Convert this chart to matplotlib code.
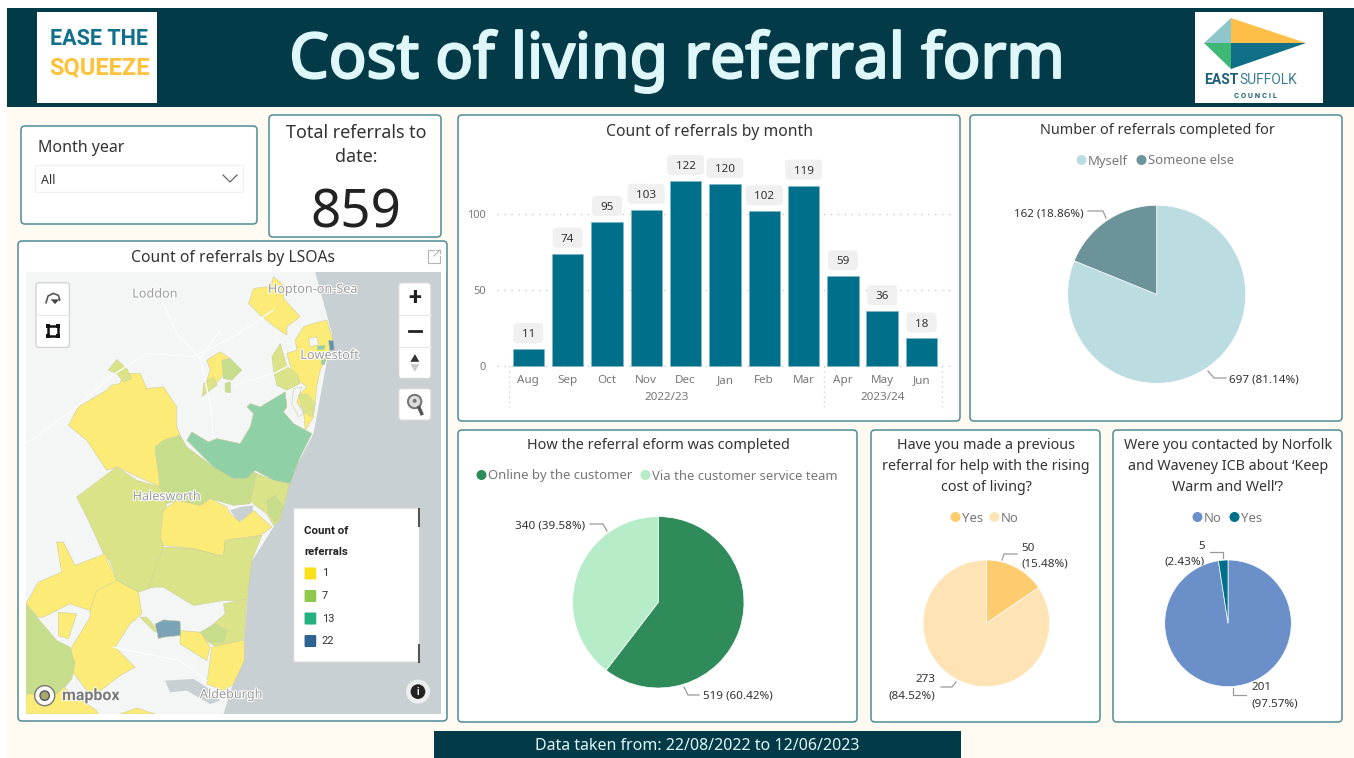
import matplotlib
matplotlib.use("Agg")
import matplotlib.pyplot as plt
import matplotlib.patheffects as pe
from matplotlib.patches import FancyBboxPatch, Polygon, Rectangle, Circle
from matplotlib.transforms import ScaledTranslation

plt.rcParams['font.family'] = ['Noto Sans', 'DejaVu Sans']

# data
months = ["Aug", "Sep", "Oct", "Nov", "Dec", "Jan", "Feb", "Mar", "Apr", "May", "Jun"]
month_counts = [11, 74, 95, 103, 122, 120, 102, 119, 59, 36, 18]
y_ticks = [0, 50, 100]
total_referrals = 859

for_labels = ["Myself", "Someone else"]
for_counts = [697, 162]
for_colors = ["#bbdce1", "#6c939a"]

how_labels = ["Online by the customer", "Via the customer service team"]
how_counts = [519, 340]
how_colors = ["#2f8c5a", "#b6edc8"]

prev_labels = ["Yes", "No"]
prev_counts = [50, 273]
prev_colors = ["#fecb6e", "#fee4b4"]

icb_labels = ["No", "Yes"]
icb_counts = [201, 5]
icb_colors = ["#6b90c9", "#006f87"]

legend_counts = ["1", "7", "13", "22"]
legend_colors = ["#fde01c", "#8fc94c", "#25b07f", "#2e6390"]

W, H = 1354, 758
DARK = "#023a47"
BORDER = "#4f8c96"
TXT = "#333333"
GREY = "#777777"
BOLD = ['Roboto', 'DejaVu Sans']

YEL = "#fceb76"
OLV = "#dbe388"
GRN = "#c6de8c"
TEAL = "#8fd0a6"
BLU = "#7aa3b8"
LAND = "#f4f5f5"

# map shapes, in zoomed map coordinates
map_shapes = [
    (YEL, [(145,465),(175,410),(260,360),(275,345),(300,340),(310,310),(360,310),(380,355),(430,350),(470,410),(470,470),(480,495),(425,515),(405,545),(420,625),(460,630),(460,660),(420,650),(290,590),(260,600),(200,510)]),
    (OLV, [(265,300),(290,268),(320,295),(335,325),(310,335),(290,310)]),
    (GRN, [(405,530),(430,510),(480,495),(500,530),(580,590),(650,625),(690,600),(710,610),(690,700),(640,705),(570,685),(540,710),(470,690),(440,700),(420,650)]),
    (TEAL, [(500,510),(515,485),(565,515),(590,505),(660,520),(690,470),(700,430),(680,410),(690,400),(720,410),(795,365),(800,410),(790,425),(820,460),(875,490),(840,560),(810,640),(760,630),(705,600),(680,625),(640,625),(580,590)]),
    (OLV, [(170,680),(290,590),(350,630),(420,650),(440,700),(430,740),(420,800),(430,830),(400,950),(355,965),(290,930),(270,870),(250,850),(210,760)]),
    (YEL, [(420,800),(430,720),(470,690),(540,705),(570,685),(620,710),(630,730),(660,755),(700,720),(755,770),(720,795),(615,810),(610,858),(520,835),(430,825)]),
    (OLV, [(690,690),(710,610),(760,630),(808,640),(780,750),(760,765),(740,730),(705,705)]),
    (GRN, [(740,690),(765,675),(790,710),(770,760),(745,730)]),
    (OLV, [(430,830),(520,835),(610,858),(615,810),(725,795),(695,870),(680,990),(610,990),(520,1005),(430,950),(385,950)]),
    (YEL, [(18,1000),(55,935),(125,905),(110,815),(130,815),(165,885),(255,850),(290,930),(210,1020),(150,1000),(70,1040),(55,1040)]),
    (YEL, [(210,1020),(230,960),(290,930),(355,965),(365,1030),(330,1060),(285,1130),(345,1190),(300,1215),(215,1280),(155,1200),(155,1130),(210,1040)]),
    (GRN, [(18,1000),(55,1045),(110,1110),(150,1130),(165,1180),(155,1225),(110,1280),(18,1270)]),
    (YEL, [(115,1025),(170,1030),(145,1105),(115,1095)]),
    (YEL, [(18,1270),(110,1270),(130,1250),(230,1320),(235,1330),(18,1330)]),
    (YEL, [(300,1330),(350,1312),(405,1330)]),
    (OLV, [(610,1000),(680,985),(672,1105),(590,1130),(540,1100),(580,1060),(615,1030)]),
    (YEL, [(575,1130),(672,1108),(672,1170),(640,1240),(610,1260),(560,1240)]),
    (YEL, [(480,1080),(540,1085),(570,1130),(560,1170),(480,1120)]),
    (GRN, [(540,1085),(585,1060),(620,1080),(610,1115),(570,1115)]),
    (OLV, [(360,1040),(380,1040),(410,1075),(405,1085)]),
    (BLU, [(405,1060),(430,1048),(480,1052),(482,1095),(430,1100),(415,1105)]),
    (YEL, [(685,100),(700,55),(750,50),(760,20),(790,45),(790,85),(840,140),(800,170),(800,195),(770,175),(720,135),(705,120)]),
    (YEL, [(560,270),(600,245),(630,265),(605,320),(580,350),(545,378),(570,300)]),
    (OLV, [(550,340),(580,320),(590,345),(548,376)]),
    (GRN, [(605,270),(630,265),(665,300),(635,330),(610,325)]),
    (GRN, [(615,340),(630,335),(632,368),(615,365)]),
    (YEL, [(825,210),(850,170),(880,160),(920,150),(938,210),(920,260),(900,300),(890,345),(880,440),(855,480),(850,420),(830,395),(840,370),(860,350),(820,320),(800,250),(830,240)]),
    (OLV, [(755,260),(780,220),(800,290),(830,310),(840,340),(800,360),(770,345),(760,300)]),
    (LAND, [(865,205),(890,200),(895,225),(870,230)]),
    (LAND, [(820,355),(845,350),(830,395),(850,430),(835,440),(815,400)]),
    (OLV, [(835,375),(860,370),(885,400),(875,440),(850,425)]),
    (TEAL, [(890,228),(915,226),(912,238),(892,240)]),
    (TEAL, [(905,268),(918,266),(912,284),(902,282)]),
    ("#5f8fb5", [(925,210),(940,212),(942,240),(928,240)]),
]
water_shapes = [
    [(885,6),(935,190),(880,490),(800,640),(760,770),(690,880),(670,1140),(610,1330),(1262,1330),(1262,6)],
    [(630,720),(660,710),(700,705),(695,730),(655,755)],
    [(435,1230),(520,1225),(560,1250),(600,1290),(570,1300),(500,1260),(450,1265)],
]
road_lines = [
    [(18,520),(160,420),(270,320),(380,250),(520,260),(640,200),(760,120)],
    [(430,100),(470,190),(540,265),(570,400),(580,500)],
    [(600,180),(540,265)],
    [(640,345),(760,310),(800,290)],
    [(280,1130),(380,1150),(480,1170),(560,1230)],
]
map_labels = [
    ("Loddon", 405, 68),
    ("Hopton-on-Sea", 878, 54),
    ("Lowestoft", 928, 252),
    ("Halesworth", 440, 675),
    ("Aldeburgh", 634, 1268),
]

fig = plt.figure(figsize=(W / 100, H / 100), dpi=100, facecolor="white")


def px_axes(x0, y0, x1, y1, **kw):
    return fig.add_axes([x0 / W, 1 - y1 / H, (x1 - x0) / W, (y1 - y0) / H], **kw)


bg = px_axes(0, 0, W, H)
bg.set_xlim(0, W)
bg.set_ylim(H, 0)
bg.axis("off")


def txt(x, y, s, **kw):
    # noto sits a little high with va=center
    kw.setdefault("va", "center")
    kw.setdefault("color", TXT)
    return bg.text(x, y + 1.5, s, **kw)


def panel(x0, y0, x1, y1):
    bg.add_patch(FancyBboxPatch((x0 + 3, y0 + 3), x1 - x0 - 6, y1 - y0 - 6, boxstyle="round,pad=3,rounding_size=4",
                                fc="white", ec=BORDER, lw=1.1))


# page background and header
bg.add_patch(Rectangle((7, 8), W - 7, H - 8, fc="#fffbf3", ec="none"))
bg.add_patch(Rectangle((7, 8), W - 7, 99, fc=DARK, ec="none"))
t = txt(677, 60, "Cost of living referral form", color="#e0f7f9", fontsize=45, ha="center")
t.set_path_effects([pe.withStroke(linewidth=1.7, foreground="#e0f7f9")])

# left logo
bg.add_patch(Rectangle((37, 12), 120, 91, fc="white", ec="none"))
bg.text(99, 39, "EASE THE", color="#0f708a", fontsize=15.5, fontweight="bold", family=BOLD, ha="center", va="center")
bg.text(99, 68, "SQUEEZE", color="#fdc13a", fontsize=17, fontweight="bold", family=BOLD, ha="center", va="center")

# right logo
bg.add_patch(Rectangle((1195, 12), 128, 91, fc="white", ec="none"))
bg.add_patch(Polygon([(1231, 18), (1204, 43), (1231, 43)], fc="#8fc6cb", ec="none"))
bg.add_patch(Polygon([(1231, 18), (1231, 43), (1306, 43)], fc="#fdbf47", ec="none"))
bg.add_patch(Polygon([(1204, 43), (1231, 43), (1231, 69)], fc="#3fb876", ec="none"))
bg.add_patch(Polygon([(1231, 43), (1306, 43), (1231, 69)], fc="#0e6f86", ec="none"))
bg.text(1204, 80, "EAST", color="#1c5f78", fontsize=10, fontweight="bold", family=BOLD, va="center")
bg.text(1239, 80, "SUFFOLK", color="#3d7d94", fontsize=10, family=BOLD, va="center")
bg.text(1255, 95, "C O U N C I L", color="#1c5f78", fontsize=5.5, fontweight="bold", family=BOLD, ha="center", va="center")

# panels
panel(21, 126, 257, 224)
panel(269, 115, 441, 237)
panel(18, 241, 447, 721)
panel(458, 115, 960, 421)
panel(970, 115, 1342, 421)
panel(458, 430, 857, 722)
panel(871, 430, 1100, 722)
panel(1113, 430, 1342, 722)

# slicer
txt(38, 146, "Month year", fontsize=11.5)
bg.add_patch(Rectangle((35, 165), 208, 27, fc="white", ec="#f2f2f2", lw=1))
txt(41, 179, "All", fontsize=9)
bg.plot([223, 230, 237], [175, 182, 175], color="#666666", lw=0.9)

# card
txt(356, 131, "Total referrals to", fontsize=12.9, ha="center")
txt(356, 155.5, "date:", fontsize=12.9, ha="center")
txt(356, 212, str(total_referrals), color="#222222", fontsize=38, ha="center")

# map
txt(233, 257, "Count of referrals by LSOAs", fontsize=11.3, ha="center")
bg.plot([428, 428, 440, 440], [256, 263, 263, 256], color="#b5b5b5", lw=0.8)
bg.plot([428, 428, 434], [256, 250, 250], color="#b5b5b5", lw=0.8)
bg.plot([436, 440, 440], [250, 250, 253], color="#b5b5b5", lw=0.8)
bg.plot([434, 440], [256, 250], color="#b5b5b5", lw=0.8)

mp = px_axes(26, 272, 441, 714)
mp.set_xlim(18, 1262)
mp.set_ylim(1330, 6)
mp.axis("off")
mp.add_patch(Rectangle((18, 6), 1244, 1324, fc=LAND, ec="none"))
for line in road_lines:
    mp.plot([p[0] for p in line], [p[1] for p in line], color="#fcfcfc", lw=1, solid_capstyle="round")
for pts in water_shapes:
    mp.add_patch(Polygon(pts, fc="#c8d0d3", ec="none"))
for color, pts in map_shapes:
    mp.add_patch(Polygon(pts, fc=color, ec="#cfcf9e", lw=0.4))
for name, x, y in map_labels:
    lab = mp.text(x, y + 4, name, color="#9c9c9c", fontsize=9.1, ha="center", va="center")
    lab.set_path_effects([pe.withStroke(linewidth=1.5, foreground="#ffffff")])


def map_btn(x0, y0, x1, y1):
    mp.add_patch(FancyBboxPatch((x0 + 8, y0 + 8), x1 - x0 - 16, y1 - y0 - 16, boxstyle="round,pad=8,rounding_size=10",
                                fc="white", ec="#d5d5d5", lw=1, zorder=5))


map_btn(48, 38, 148, 232)
map_btn(1135, 38, 1232, 325)
map_btn(1135, 355, 1232, 450)
mp.plot([48, 148], [134, 134], color="#e8e8e8", lw=0.8, zorder=6)
mp.plot([1135, 1232], [134, 134], color="#e8e8e8", lw=0.8, zorder=6)
mp.plot([1135, 1232], [230, 230], color="#e8e8e8", lw=0.8, zorder=6)
mp.text(1184, 84, "+", color="#222222", fontsize=17, fontweight="bold", family=BOLD, ha="center", va="center", zorder=6)
mp.plot([1167, 1201], [183, 183], color="#222222", lw=2, zorder=6)
mp.add_patch(Polygon([(1170, 275), (1197, 275), (1184, 252)], fc="#333333", ec="none", zorder=6))
mp.add_patch(Polygon([(1170, 282), (1197, 282), (1184, 305)], fc="#cccccc", ec="none", zorder=6))
mp.add_patch(Rectangle((84, 168), 30, 30, fc="none", ec="#111111", lw=1.8, zorder=6))
for cx, cy in [(84, 168), (114, 168), (84, 198), (114, 198)]:
    mp.add_patch(Rectangle((cx - 5, cy - 5), 10, 10, fc="#111111", ec="none", zorder=6))
mp.plot([78, 84, 100, 115, 119], [98, 78, 70, 76, 90], color="#555555", lw=1.2, zorder=6)
mp.add_patch(Polygon([(92, 88), (118, 88), (105, 102)], fc="#444444", ec="none", zorder=6))
mp.add_patch(Circle((1183, 394), 20, fc="#dddddd", ec="#777777", lw=1.5, zorder=6))
mp.add_patch(Circle((1183, 392), 6, fc="#777777", ec="none", zorder=7))
mp.plot([1196, 1204], [412, 430], color="#555555", lw=2.5, zorder=6)
mp.add_patch(Circle((1193, 1263), 36, fc="#eeeeee", ec="none", zorder=6))
mp.add_patch(Circle((1193, 1263), 22, fc="#222222", ec="none", zorder=7))
mp.text(1193, 1263, "i", color="white", fontsize=7, fontweight="bold", family=BOLD, ha="center", va="center", zorder=8)
mp.add_patch(Circle((74, 1275), 30, fc="white", ec="#777777", lw=1, zorder=6))
mp.add_patch(Circle((74, 1275), 14, fc="#a8a870", ec="#555555", lw=1, zorder=7))
mb = mp.text(212, 1275, "mapbox", color="#7a7a7a", fontsize=11.5, fontweight="bold", family=BOLD, ha="center", va="center", zorder=6)
mb.set_path_effects([pe.withStroke(linewidth=1.5, foreground="#ffffff")])

# map legend
mp.add_patch(FancyBboxPatch((824, 717), 370, 454, boxstyle="round,pad=4,rounding_size=6", fc="white", ec="#d5d5d5", lw=1, zorder=5))
mp.plot([1197, 1197], [715, 768], color="#555555", lw=1.5, zorder=6)
mp.plot([1197, 1197], [1122, 1175], color="#555555", lw=1.5, zorder=6)
mp.text(852, 781, "Count of", color="#222222", fontsize=8.2, fontweight="bold", family=BOLD, va="center", zorder=6)
mp.text(852, 845, "referrals", color="#222222", fontsize=8.2, fontweight="bold", family=BOLD, va="center", zorder=6)
for i, (lab, col) in enumerate(zip(legend_counts, legend_colors)):
    yy = 909 + i * 67.5
    mp.add_patch(FancyBboxPatch((856, yy - 15), 29, 30, boxstyle="round,pad=3,rounding_size=3", fc=col, ec="none", zorder=6))
    mp.text(904, yy, lab, color="#333333", fontsize=8, family=BOLD, va="center", zorder=6)

# bar chart
txt(709, 130, "Count of referrals by month", fontsize=11.3, ha="center")
ax = px_axes(497, 150, 953, 367)
ax.patch.set_alpha(0)
ax.set_xlim(-0.796, 10.8)
ax.set_ylim(-0.86, 142.5)
ax.bar(range(len(months)), month_counts, width=0.8, color="#006f8a", edgecolor="#7fb7c4", linewidth=0.5, zorder=3)
for i, v in enumerate(month_counts):
    # grey label box, sized in inches above the bar top
    tr = fig.dpi_scale_trans + ScaledTranslation(i, v, ax.transData)
    bw = 0.37 if v >= 100 else 0.30
    ax.add_patch(FancyBboxPatch((-bw / 2, 0.06), bw, 0.20, boxstyle="round,pad=0,rounding_size=0.04", fc="#f0f0f0", ec="none",
                                transform=tr, clip_on=False, zorder=4))
    ax.annotate(str(v), (i, v), xytext=(0, 10.4), textcoords="offset points", ha="center", va="center", fontsize=8.4, color=TXT, zorder=5)
ax.set_yticks(y_ticks)
ax.set_xticks(range(len(months)))
ax.set_xticklabels(months, fontsize=8.4, color=GREY)
ax.tick_params(length=0)
ax.tick_params(axis="x", pad=6)
ax.tick_params(axis="y", labelsize=8, labelcolor=GREY, pad=8)
ax.grid(axis="y", color="#cccccc", linestyle=(0, (1, 4)), lw=1, zorder=1)
for s in ax.spines.values():
    s.set_visible(False)
for xx in [509, 824, 942]:
    bg.plot([xx, xx], [366, 407], color="#cccccc", linestyle=(0, (1, 3)), lw=0.9)
txt(666.5, 395.5, "2022/23", color=GREY, fontsize=8.4, ha="center")
txt(882.5, 395.5, "2023/24", color=GREY, fontsize=8.4, ha="center")


def pie_at(cx, cy, r, counts, colors):
    p = px_axes(cx - r, cy - r, cx + r, cy + r)
    p.pie(counts, colors=colors, startangle=90, counterclock=False, radius=1,
          wedgeprops=dict(edgecolor="white", linewidth=0.5))
    p.set_xlim(-1, 1)
    p.set_ylim(-1, 1)
    p.axis("off")
    p.patch.set_alpha(0)


def pct(counts, i):
    return "%.2f%%" % (100.0 * counts[i] / sum(counts))


def legend_row(items, colors, y):
    # items are (text x, label), the dot sits just to the left of its label
    for (tx, lab), col in zip(items, colors):
        bg.add_patch(Circle((tx - 6.5, y), 5, fc=col, ec="none"))
        txt(tx, y - 0.5, lab, color=GREY, fontsize=9.45)


def leader(xs, ys):
    bg.plot(xs, ys, color="#999999", lw=0.9)


# who the referral was for
txt(1157, 129, "Number of referrals completed for", fontsize=10.4, ha="center")
legend_row([(1088, for_labels[0]), (1148, for_labels[1])], for_colors, 160)
pie_at(1156.7, 294.3, 89, for_counts, for_colors)
txt(1084, 212, "%d (%s)" % (for_counts[1], pct(for_counts, 1)), fontsize=8.4, ha="right")
leader([1088, 1103, 1106], [211, 211, 218])
txt(1229, 378, "%d (%s)" % (for_counts[0], pct(for_counts, 0)), fontsize=8.4)
leader([1208, 1214, 1226], [371, 378, 378])

# how the form was completed
txt(658, 444, "How the referral eform was completed", fontsize=10.4, ha="center")
legend_row([(488, how_labels[0]), (652, how_labels[1])], how_colors, 475)
pie_at(658.3, 602.3, 85.7, how_counts, how_colors)
txt(585, 524, "%d (%s)" % (how_counts[1], pct(how_counts, 1)), fontsize=8.4, ha="right")
leader([590, 603, 607], [524, 524, 531])
txt(703, 695, "%d (%s)" % (how_counts[0], pct(how_counts, 0)), fontsize=8.4)
leader([684, 688, 699], [687, 695, 695])

# previous referral
for yy, line in zip([444, 465, 486], ["Have you made a previous", "referral for help with the rising", "cost of living?"]):
    txt(986, yy, line, fontsize=10.3, ha="center")
legend_row([(962, prev_labels[0]), (1001, prev_labels[1])], prev_colors, 517)
pie_at(986.3, 623.3, 63.3, prev_counts, prev_colors)
txt(1021, 547, "%d" % prev_counts[0], fontsize=8.4)
txt(1021, 563, "(%s)" % pct(prev_counts, 0), fontsize=8.4)
leader([1002, 1004, 1017], [560, 554, 554])
txt(926, 678, "%d" % prev_counts[1], fontsize=8.4, ha="center")
txt(912, 695, "(%s)" % pct(prev_counts, 1), fontsize=8.4, ha="center")
leader([941, 952, 956], [687, 687, 682])

# norfolk and waveney ICB
for yy, line in zip([444, 465, 486], ["Were you contacted by Norfolk", "and Waveney ICB about \u2018Keep", "Warm and Well\u2019?"]):
    txt(1228, yy, line, fontsize=10.3, ha="center")
legend_row([(1204, icb_labels[0]), (1241, icb_labels[1])], icb_colors, 517)
pie_at(1228, 623.3, 63.3, icb_counts, icb_colors)
txt(1202, 545, "%d" % icb_counts[1], fontsize=8.4, ha="center")
txt(1185, 561, "(%s)" % pct(icb_counts, 1), fontsize=8.4, ha="center")
leader([1210, 1223, 1223], [552, 552, 558])
txt(1251, 686, "%d" % icb_counts[0], fontsize=8.4)
txt(1251, 703, "(%s)" % pct(icb_counts, 0), fontsize=8.4)
leader([1233, 1233, 1246], [688, 695, 695])

# footer
bg.add_patch(Rectangle((434, 731), 527, 27, fc=DARK, ec="none"))
txt(697, 744, "Data taken from: 22/08/2022 to 12/06/2023", color="#e0f7f9", fontsize=11.5, ha="center")

fig.savefig("out.png", dpi=100)
